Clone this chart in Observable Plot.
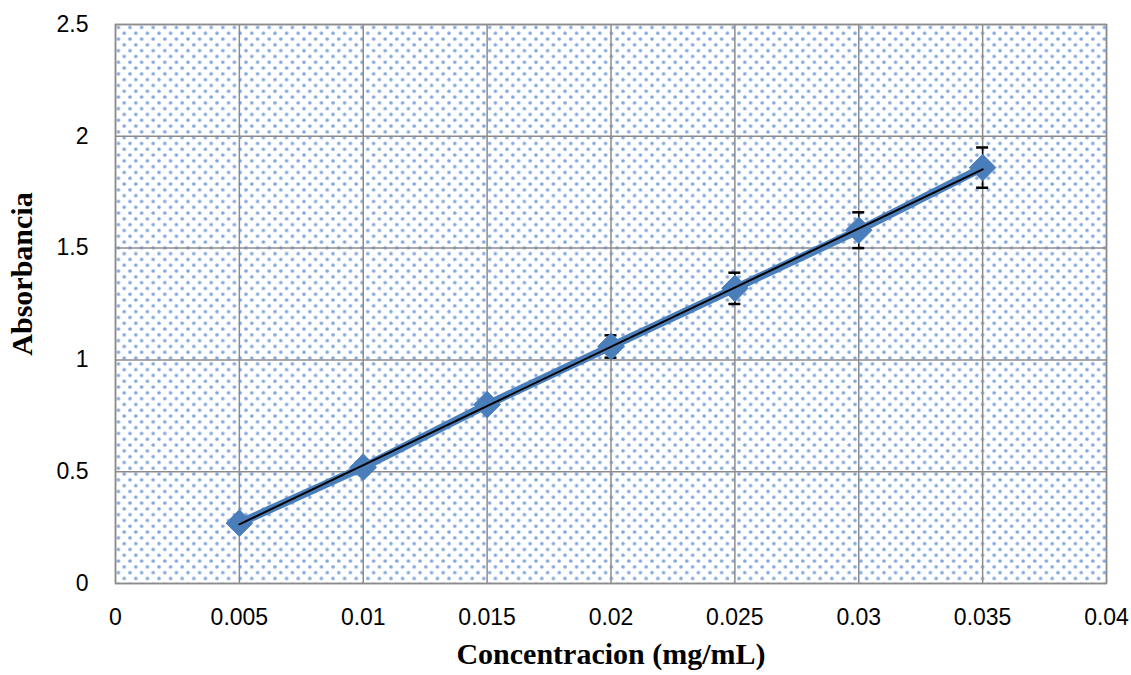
<!DOCTYPE html>
<html>
<head>
<meta charset="utf-8">
<script src="https://cdn.jsdelivr.net/npm/d3@7"></script>
<script src="https://cdn.jsdelivr.net/npm/@observablehq/plot@0.6"></script>
<style>
  html, body { margin: 0; padding: 0; background: #fff; }
  #chart { width: 1131px; height: 675px; }
</style>
</head>
<body>
<div id="chart"></div>
<script>
const concentration = [0.005, 0.01, 0.015, 0.02, 0.025, 0.03, 0.035];
const absorbance = [0.27, 0.52, 0.80, 1.06, 1.32, 1.58, 1.86];
const errors = [0.01, 0.015, 0.02, 0.05, 0.07, 0.08, 0.09];
const xTicks = [0, 0.005, 0.01, 0.015, 0.02, 0.025, 0.03, 0.035, 0.04];
const yTicks = [0, 0.5, 1, 1.5, 2, 2.5];
const xLabel = "Concentracion (mg/mL)";
const yLabel = "Absorbancia";

const data = concentration.map((c, i) => ({x: c, y: absorbance[i], e: errors[i]}));

const blue = "#4a7ebb";
const grid = "#8c8c8c";
const sans = "Liberation Sans, Arial, sans-serif";
const serif = "Liberation Serif, Times New Roman, serif";

const plot = Plot.plot({
  width: 1131,
  height: 675,
  marginLeft: 115,
  marginTop: 24,
  marginRight: 25,
  marginBottom: 92,
  x: {type: "linear", domain: [0, 0.04]},
  y: {type: "linear", domain: [0, 2.5]},
  style: {background: "#fff", overflow: "visible"},
  marks: [
    Plot.frame({fill: "url(#dots)", stroke: "none"}),
    Plot.gridX(xTicks, {stroke: grid, strokeOpacity: 1, strokeWidth: 1.5}),
    Plot.gridY(yTicks, {stroke: grid, strokeOpacity: 1, strokeWidth: 1.5}),
    Plot.frame({stroke: grid, strokeWidth: 1.5}),
    Plot.axisX({ticks: xTicks, tickFormat: d => String(d), tickSize: 0, tickPadding: 25,
      fontSize: 23, fontFamily: sans, fill: "#000", label: null}),
    Plot.axisY({ticks: yTicks, tickFormat: d => String(d), tickSize: 0, tickPadding: 27,
      fontSize: 23, fontFamily: sans, fill: "#000", label: null}),
    Plot.line(data, {x: "x", y: "y", stroke: blue, strokeWidth: 8}),
    Plot.ruleX(data, {x: "x", y1: d => d.y - d.e, y2: d => d.y + d.e, stroke: "#000", strokeWidth: 1.5}),
    Plot.ruleY(data, {x1: "x", x2: "x", y: d => d.y + d.e, stroke: "#000", strokeWidth: 2.5, insetLeft: -6, insetRight: -6}),
    Plot.ruleY(data, {x1: "x", x2: "x", y: d => d.y - d.e, stroke: "#000", strokeWidth: 2.5, insetLeft: -6, insetRight: -6}),
    Plot.dot(data, {x: "x", y: "y", symbol: "diamond2", r: 12, fill: blue, stroke: blue, strokeWidth: 1}),
    Plot.linearRegressionY(data, {x: "x", y: "y", stroke: "#000", strokeWidth: 2, ci: 0}),
    Plot.text([xLabel], {frameAnchor: "bottom", dy: 80, fontSize: 30, fontWeight: "bold", fontFamily: serif, fill: "#000"}),
    Plot.text([yLabel], {frameAnchor: "left", textAnchor: "middle", dx: -93, dy: -30, rotate: -90, fontSize: 30, fontWeight: "bold", fontFamily: serif, fill: "#000"})
  ]
});

// dotted pattern definition
const ns = "http://www.w3.org/2000/svg";
const defs = document.createElementNS(ns, "defs");
defs.innerHTML = `<pattern id="dots" patternUnits="userSpaceOnUse" width="11.6" height="11.6" x="115" y="24">
  <circle cx="2.9" cy="2.9" r="1.8" fill="#6a96d6" fill-opacity="0.85"></circle>
  <circle cx="8.7" cy="8.7" r="1.8" fill="#6a96d6" fill-opacity="0.85"></circle>
</pattern>`;
plot.insertBefore(defs, plot.firstChild);
document.getElementById("chart").appendChild(plot);
</script>
</body>
</html>
